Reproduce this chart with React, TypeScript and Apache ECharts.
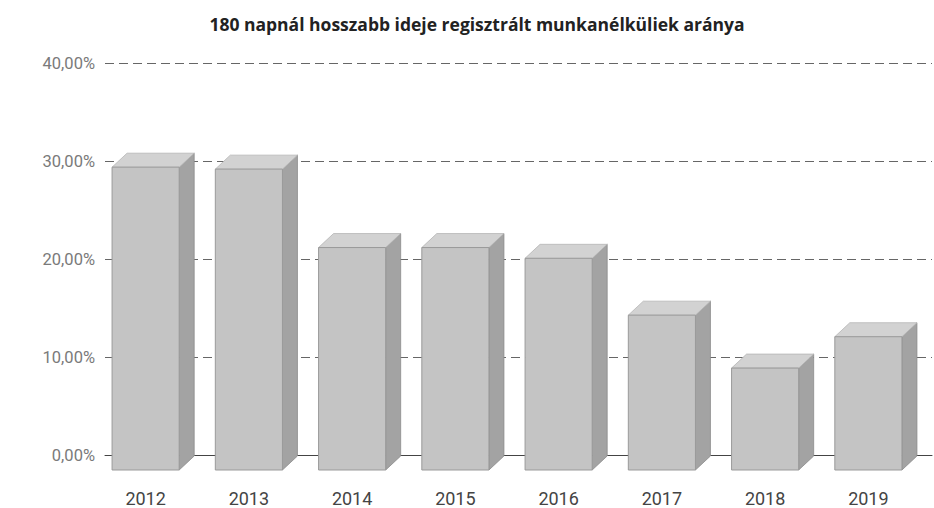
import React, { useEffect, useRef } from "react";
import * as echarts from "echarts";

const categories = ["2012", "2013", "2014", "2015", "2016", "2017", "2018", "2019"];
const values = [30.9, 30.7, 22.7, 22.7, 21.6, 15.8, 10.4, 13.6];
const titleText = "180 napnál hosszabb ideje regisztrált munkanélküliek aránya";

export default function App() {
  const ref = useRef<HTMLDivElement>(null);
  useEffect(() => {
    if (!ref.current) return;
    const chart = echarts.init(ref.current, undefined, { renderer: "svg" });
    const DX = 15;
    const DY = 14;
    const DOWN = 15;
    chart.setOption({
      animation: false,
      backgroundColor: "#ffffff",
      title: {
        text: titleText,
        left: 472,
        textAlign: "center",
        top: 10,
        textStyle: { fontFamily: "Open Sans", fontWeight: "bold", fontSize: 17.5, color: "#222" },
      },
      grid: [
        { left: 105, right: 2, top: 63, height: 392 },
        { left: 94, right: 14, top: 63, height: 392 },
      ],
      xAxis: [
        {
          gridIndex: 0,
          type: "category",
          data: categories,
          axisLabel: { show: false },
          axisTick: { show: false },
          axisLine: { show: true, lineStyle: { color: "#444", width: 1 } },
        },
        {
          gridIndex: 1,
          type: "category",
          data: categories,
          axisLine: { show: false },
          axisTick: { show: false },
          axisLabel: {
            margin: 34,
            fontFamily: "Roboto",
            fontSize: 18,
            color: "#444",
          },
        },
      ],
      yAxis: [
        {
          gridIndex: 0,
          type: "value",
          min: 0,
          max: 40,
          interval: 10,
          axisLine: { show: false },
          axisTick: { show: false },
          axisLabel: {
            margin: 10,
            fontFamily: "Roboto",
            fontSize: 16.5,
            color: "#7a7a7a",
            formatter: (v: number) => v.toFixed(2).replace(".", ",") + "%",
          },
          splitLine: { show: true, lineStyle: { color: "#666", type: [9, 5], width: 1 } },
        },
        {
          gridIndex: 1,
          type: "value",
          min: 0,
          max: 40,
          interval: 10,
          show: false,
          splitLine: { show: false },
        },
      ],
      series: [
        {
          type: "custom",
          xAxisIndex: 1,
          yAxisIndex: 1,
          data: values.map((v, i) => [i, v]),
          renderItem: (params: any, api: any) => {
            const i = api.value(0);
            const v = api.value(1);
            const base = api.coord([i, 0]);
            const top = api.coord([i, v]);
            const w = api.size([1, 0])[0] * 0.65;
            const xl = base[0] - w / 2;
            const xr = base[0] + w / 2;
            const yb = base[1] + DOWN;
            const yt = top[1] + DOWN;
            return {
              type: "group",
              children: [
                {
                  type: "polygon",
                  shape: { points: [[xr, yt], [xr + DX, yt - DY], [xr + DX, yb - DY], [xr, yb]] },
                  style: { fill: "#a3a3a3", stroke: "#8a8a8a", lineWidth: 0.8 },
                },
                {
                  type: "polygon",
                  shape: { points: [[xl, yt], [xr, yt], [xr + DX, yt - DY], [xl + DX, yt - DY]] },
                  style: { fill: "#d2d2d2", stroke: "#b5b5b5", lineWidth: 0.8 },
                },
                {
                  type: "rect",
                  shape: { x: xl, y: yt, width: w, height: yb - yt },
                  style: { fill: "#c4c4c4", stroke: "#9a9a9a", lineWidth: 1 },
                },
              ],
            };
          },
        },
      ],
    });
    return () => chart.dispose();
  }, []);
  return <div ref={ref} style={{ width: 934, height: 508, position: "absolute", left: 0, top: 0 }} />;
}
